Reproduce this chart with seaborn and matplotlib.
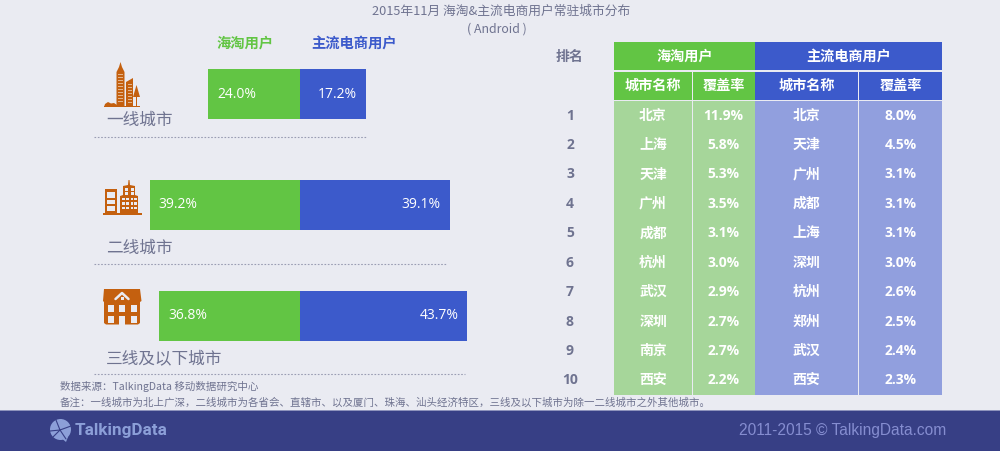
import matplotlib
matplotlib.use('Agg')
import matplotlib.pyplot as plt
import seaborn as sns
import pandas as pd
from matplotlib.patches import Rectangle, Polygon, Circle

tiers = ['一线城市', '二线城市', '三线及以下城市']
haitao_share = [24.0, 39.2, 36.8]
ecom_share = [17.2, 39.1, 43.7]

ranks = [1, 2, 3, 4, 5, 6, 7, 8, 9, 10]
haitao_city = ['北京', '上海', '天津', '广州', '成都', '杭州', '武汉', '深圳', '南京', '西安']
haitao_rate = [11.9, 5.8, 5.3, 3.5, 3.1, 3.0, 2.9, 2.7, 2.7, 2.2]
ecom_city = ['北京', '天津', '广州', '成都', '上海', '深圳', '杭州', '郑州', '武汉', '西安']
ecom_rate = [8.0, 4.5, 3.1, 3.1, 3.1, 3.0, 2.6, 2.5, 2.4, 2.3]

BG = '#EAEBF2'
GREEN = '#62C544'
BLUE = '#3C5ACB'
LIGHT_GREEN = '#A6D69A'
LIGHT_BLUE = '#919FDE'
FOOTER = '#373F85'
GREY = '#6F7390'
ORANGE = '#C4600F'
STRIPE = '#E3B48C'
W, H = 1000, 451

sns.set_theme(style='white')
plt.rcParams['font.family'] = ['Noto Sans CJK SC', 'DejaVu Sans']

fig = plt.figure(figsize=(W / 100, H / 100), dpi=100, facecolor=BG)

# background axes in pixel coordinates, for everything that is not data
bg = fig.add_axes([0, 0, 1, 1])
bg.set_xlim(0, W)
bg.set_ylim(H, 0)
bg.axis('off')


def add_axes_px(x0, y0, x1, y1):
    ax = fig.add_axes([x0 / W, 1 - y1 / H, (x1 - x0) / W, (y1 - y0) / H])
    ax.patch.set_alpha(0)
    ax.axis('off')
    return ax


bg.text(501.5, 11, '2015年11月 海淘&主流电商用户常驻城市分布', ha='center', va='center', fontsize=9.2, color=GREY)
bg.text(497, 29.5, '( Android )', ha='center', va='center', fontsize=8.9, color=GREY)

bg.text(245, 43.5, '海淘用户', ha='center', va='center', fontsize=10.3, color=GREEN, fontweight='bold')
bg.text(354, 43.5, '主流电商用户', ha='center', va='center', fontsize=10.3, color=BLUE, fontweight='bold')

# stacked bars, green runs left of zero and blue runs right
bars = pd.DataFrame({'tier': tiers, 'haitao': [-v for v in haitao_share], 'ecom': ecom_share})
ax = add_axes_px(0, 38.6, 600, 371)
sns.barplot(data=bars, x='haitao', y='tier', color=GREEN, width=0.4515, saturation=1, linewidth=0, ax=ax)
sns.barplot(data=bars, x='ecom', y='tier', color=BLUE, width=0.4515, saturation=1, linewidth=0, ax=ax)
ax.set_xlim(-300 / 3.83, 300 / 3.83)
ax.set_ylim(2.5, -0.5)
ax.axis('off')
for i in range(len(tiers)):
    ax.annotate(f'{haitao_share[i]:.1f}%', (-haitao_share[i], i), xytext=(6.4, 0), textcoords='offset points',
                ha='left', va='center', color='white', fontsize=10, family='Open Sans')
    ax.annotate(f'{ecom_share[i]:.1f}%', (ecom_share[i], i), xytext=(-6.4, 0), textcoords='offset points',
                ha='right', va='center', color='white', fontsize=10, family='Open Sans')

# tier names and dotted rules
for name, y, rule_y, x1 in zip(tiers, [120.5, 248, 359], [137, 264, 374], [366, 447, 465]):
    bg.text(106, y, name, ha='left', va='center', fontsize=12, color=GREY)
    bg.plot([94, x1], [rule_y, rule_y], color='#9A9DB3', lw=0.8, ls=(0, (1.5, 1.5)))

# tier 1 icon
bg.add_patch(Polygon([(116.5, 106), (116.5, 72), (119, 67), (120.5, 62), (122, 67), (124.5, 72), (124.5, 106)], color=ORANGE, lw=0))
for y in range(74, 102, 3):
    bg.add_patch(Rectangle((118, y), 5, 1.4, color=STRIPE, lw=0))
bg.add_patch(Polygon([(126, 106), (126, 82), (133, 78), (133, 106)], color=ORANGE, lw=0))
for y in range(84, 104, 3):
    bg.add_patch(Rectangle((127.5, y), 4, 1.2, color=STRIPE, lw=0))
bg.add_patch(Polygon([(133, 97), (136.5, 85), (140, 97)], color=ORANGE, lw=0))
bg.add_patch(Rectangle((135.8, 96), 1.4, 10, color=ORANGE, lw=0))
bg.add_patch(Polygon([(104, 107), (105, 104), (108, 102), (111, 103.5), (114, 103), (117, 105), (117, 107)], color=ORANGE, lw=0))
bg.add_patch(Rectangle((104, 105.5), 36, 1.5, color=ORANGE, lw=0))

# tier 2 icon
bg.add_patch(Rectangle((102.5, 212.5), 39.5, 2.2, color=ORANGE, lw=0))
bg.add_patch(Rectangle((105, 188.5), 12, 24.5, color=ORANGE, lw=0))
bg.add_patch(Rectangle((107, 191.5), 8, 6, color=BG, lw=0))
bg.add_patch(Rectangle((107, 199.5), 8, 4, color=BG, lw=0))
bg.add_patch(Rectangle((107, 205.5), 8, 5, color=BG, lw=0))
bg.add_patch(Polygon([(120, 213), (120, 196), (123, 195), (123, 186), (128, 185), (128.5, 180), (129.5, 180), (130, 185), (135, 186), (135, 195), (138, 196), (138, 213)], color=ORANGE, lw=0))
for x in [122, 126, 130.5, 134]:
    for y in [197.5, 202, 206.5]:
        bg.add_patch(Rectangle((x, y), 2.6, 2.8, color=BG, lw=0))
for x in [125, 130.5]:
    bg.add_patch(Rectangle((x, 187.5), 3.2, 3, color=BG, lw=0))
    bg.add_patch(Rectangle((x, 192), 3.2, 3, color=BG, lw=0))

# tier 3 icon
bg.add_patch(Polygon([(103, 301), (104, 289), (140, 289), (141.5, 301), (140, 302), (140, 323), (138, 324.5), (106, 324.5), (104, 323), (104, 302)], color=ORANGE, lw=0))
bg.plot([115.5, 122, 128.5], [299, 293, 299], color=BG, lw=1.8)
bg.add_patch(Rectangle((120.5, 297), 3, 3, color=BG, lw=0))
for x in [107.5, 119, 130.5]:
    bg.add_patch(Rectangle((x, 305), 6, 7, color=BG, lw=0))
    bg.add_patch(Rectangle((x, 315.5), 6, 7 if x != 119 else 9, color=BG, lw=0))

# ranking table, rows are laid out on rank so the y axis carries them
col_edges = [614, 692, 755, 858, 942]
col_centers = [653, 723.5, 806.5, 900.5]
tbl = add_axes_px(614, 101, 942, 395)
tbl.set_xlim(614, 942)
tbl.set_ylim(10.5, 0.5)

# header cells
bg.add_patch(Rectangle((614, 41.5), 141, 28.5, color=GREEN, lw=0))
bg.add_patch(Rectangle((755, 41.5), 187, 28.5, color=BLUE, lw=0))
for i, color in enumerate([GREEN, GREEN, BLUE, BLUE]):
    x0 = col_edges[i] + (1 if i in (1, 3) else 0)
    bg.add_patch(Rectangle((x0, 71.5), col_edges[i + 1] - x0, 28, color=color, lw=0))
    tbl.add_patch(Rectangle((x0, 0.5), col_edges[i + 1] - x0, 10, color=LIGHT_GREEN if i < 2 else LIGHT_BLUE, lw=0))

bg.text(684.5, 56.5, '海淘用户', ha='center', va='center', fontsize=10.2, color='white', fontweight='bold')
bg.text(848.5, 56.5, '主流电商用户', ha='center', va='center', fontsize=10.2, color='white', fontweight='bold')
for xc, label in zip(col_centers, ['城市名称', '覆盖率', '城市名称', '覆盖率']):
    bg.text(xc, 86, label, ha='center', va='center', fontsize=10.2, color='white', fontweight='bold')
bg.text(569, 56.5, '排名', ha='center', va='center', fontsize=10, color=GREY, fontweight='bold')

for i, rank in enumerate(ranks):
    tbl.text(col_centers[0], rank, haitao_city[i], ha='center', va='center', fontsize=10, color='white', fontweight='bold')
    tbl.text(col_centers[2], rank, ecom_city[i], ha='center', va='center', fontsize=10, color='white', fontweight='bold')
    tbl.text(col_centers[1], rank, f'{haitao_rate[i]:.1f}%', ha='center', va='center', fontsize=10, color='white',
             fontweight='bold', family='Open Sans')
    tbl.text(col_centers[3], rank, f'{ecom_rate[i]:.1f}%', ha='center', va='center', fontsize=10, color='white',
             fontweight='bold', family='Open Sans')
    tbl.text(570, rank, str(rank), ha='center', va='center', fontsize=10, color=GREY, fontweight='bold',
             family='Open Sans', clip_on=False)

# notes
bg.text(60, 387, '数据来源：TalkingData 移动数据研究中心', ha='left', va='center', fontsize=7.55, color=GREY)
bg.text(60, 403, '备注：一线城市为北上广深，二线城市为各省会、直辖市、以及厦门、珠海、汕头经济特区，三线及以下城市为除一二线城市之外其他城市。',
        ha='left', va='center', fontsize=7.53, color=GREY)

# footer
bg.add_patch(Rectangle((0, 411), W, 40, color=FOOTER, lw=0))
bg.add_patch(Rectangle((0, 410), W, 1, color='#8E93BC', lw=0))
LOGO = '#8C9FD8'
bg.add_patch(Circle((60.5, 429.5), 10.5, color=LOGO, lw=0))
bg.add_patch(Polygon([(60, 437), (68, 437), (66, 442)], color=LOGO, lw=0))
for x_end, y_end in [(50, 431), (71, 426), (56, 420), (66, 439), (53, 437)]:
    bg.plot([60, x_end], [430, y_end], color=FOOTER, lw=0.8)
bg.text(75, 430, 'TalkingData', ha='left', va='center', fontsize=12.3, color=LOGO, fontweight='bold',
        family='Roboto')
bg.text(842.5, 430, '2011-2015 © TalkingData.com', ha='center', va='center', fontsize=11.2, color='#858DD0',
        family='Liberation Sans')

fig.savefig('out.png', dpi=100, facecolor=BG)
